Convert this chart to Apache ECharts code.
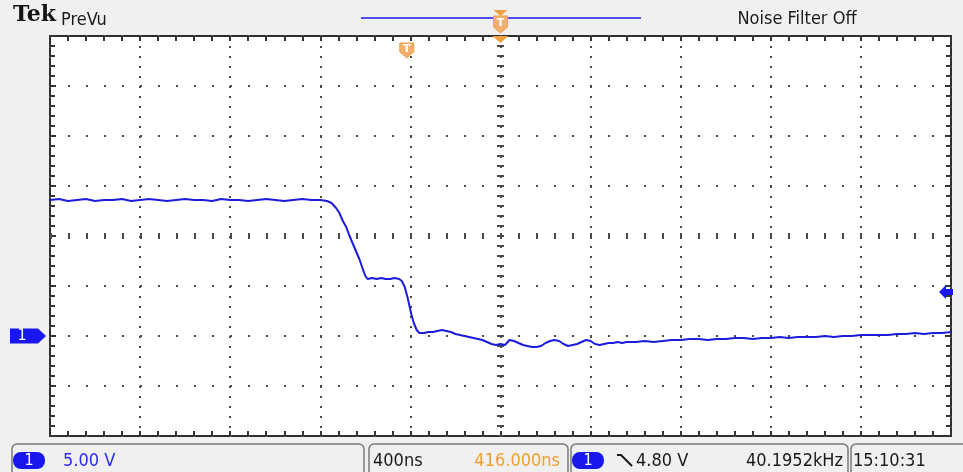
<!DOCTYPE html>
<html><head><meta charset="utf-8">
<script src="https://cdn.jsdelivr.net/npm/echarts@6/dist/echarts.min.js"></script>
<style>html,body{margin:0;padding:0;background:#f0f0f0;overflow:hidden}#c{width:963px;height:472px}</style>
</head><body><div id="c"></div>
<script>
// ---- data (time in ns, voltage in V) ----
const timeNs = [
 -2000,-1960,-1920,-1880,-1840,-1800,-1760,-1720,-1680,-1640,-1600,-1560,-1520,-1480,-1440,-1400,
 -1360,-1320,-1280,-1240,-1200,-1160,-1120,-1080,-1040,-1000,-960,-920,-880,-840,-800,-770,
 -750,-730,-715,-700,-685,-670,-655,-640,-625,-613,-600,-590,-570,-550,-530,-510,-490,-470,-450,
 -438,-425,-412,-404,-395,-385,-372,-360,-340,-320,-300,-280,-260,-240,-220,-200,-180,-160,-140,
 -120,-100,-80,-60,-40,-20,0,20,40,60,80,100,120,140,160,180,200,220,240,260,280,300,320,340,360,
 380,400,420,440,460,480,500,520,540,560,600,640,680,720,760,800,840,880,920,960,1000,1040,1080,
 1120,1160,1200,1240,1280,1320,1360,1400,1440,1480,1520,1560,1600,1640,1680,1720,1760,1800,1840,
 1880,1920,1960,2000
];
const volts = [
 13.6,13.7,13.5,13.6,13.7,13.5,13.6,13.6,13.7,13.5,13.6,13.7,13.6,13.5,13.6,13.7,
 13.6,13.6,13.5,13.7,13.6,13.6,13.5,13.6,13.7,13.6,13.5,13.6,13.7,13.6,13.6,13.5,
 13.3,12.8,12.3,11.5,10.9,10.0,9.2,8.4,7.6,6.8,6.0,5.7,5.8,5.7,5.8,5.7,5.7,5.8,5.7,
 5.5,4.9,3.8,3.0,2.1,1.3,0.6,0.3,0.3,0.4,0.4,0.5,0.6,0.5,0.4,0.2,0.1,0.0,-0.1,
 -0.2,-0.3,-0.4,-0.6,-0.8,-0.9,-0.8,-0.9,-0.4,-0.5,-0.7,-0.9,-1.0,-1.1,-1.1,-1.0,-0.7,-0.5,-0.4,-0.5,-0.8,-1.0,-0.9,-0.8,-0.6,
 -0.4,-0.5,-0.8,-0.9,-0.8,-0.7,-0.7,-0.6,-0.7,-0.6,-0.6,-0.5,-0.6,-0.5,-0.4,-0.4,-0.3,-0.3,-0.4,-0.3,-0.3,-0.2,-0.2,
 -0.3,-0.2,-0.2,-0.1,-0.2,-0.1,-0.1,-0.1,0.0,-0.1,0.0,0.0,0.1,0.1,0.1,0.1,0.2,0.2,0.3,
 0.2,0.3,0.3,0.4
];
// axis setup: 10 horizontal divisions of 400 ns, 8 vertical divisions of 5 V
const xMinNs = -2000, xMaxNs = 2000, xDivNs = 400;
const yMinV = -10, yMaxV = 30, yDivV = 5;
// markers (data units)
const groundV = 0;
const triggerTimeNs = -416;
const triggerLevelMarkV = 4.4;
const centerV = 10;
// texts
const brandText = 'Tek', modeText = 'PreVu', filterText = 'Noise Filter Off';
const chText = '1', scaleText = '5.00 V', timebaseText = '400ns', delayText = '416.000ns';
const trigLevelText = '4.80 V', freqText = '40.1952kHz', clockText = '15:10:31';

const NARROW = "'Liberation Sans Narrow','DejaVu Sans Condensed','Liberation Sans',sans-serif";
const TRACE = '#1c1cdc';
const DOT = '#4a4a4a';

const baseX = {
  type:'value', min:xMinNs, max:xMaxNs, interval:xDivNs,
  axisLine:{show:false, onZero:false}, axisLabel:{show:false},
  axisTick:{show:true, inside:true, length:5, lineStyle:{color:'#333', width:2}},
  minorTick:{show:true, splitNumber:5, length:5, lineStyle:{color:'#333', width:2}},
  minorSplitLine:{show:false}
};
const baseY = {
  type:'value', min:yMinV, max:yMaxV, interval:yDivV,
  axisLine:{show:false, onZero:false}, axisLabel:{show:false},
  axisTick:{show:true, inside:true, length:6, lineStyle:{color:'#333', width:2}},
  minorTick:{show:true, splitNumber:5, length:5, lineStyle:{color:'#333', width:2}},
  minorSplitLine:{show:false}
};

const option = {
  animation:false,
  backgroundColor:'#f0f0f0',
  grid:{left:50, top:36, width:901, height:400, show:true, backgroundColor:'#ffffff', borderColor:'#2e2e2e', borderWidth:2, z:0},
  xAxis:[
    Object.assign({}, baseX, {position:'bottom', splitLine:{show:true, lineStyle:{color:DOT, width:2, type:[2,8]}}}),
    Object.assign({}, baseX, {position:'top', splitLine:{show:false}})
  ],
  yAxis:[
    Object.assign({}, baseY, {position:'left', splitLine:{show:true, lineStyle:{color:DOT, width:2, type:[2,16]}}}),
    Object.assign({}, baseY, {position:'right', splitLine:{show:false}})
  ],
  series:[
    {
      type:'line', xAxisIndex:0, yAxisIndex:0, data:[], z:2, silent:true,
      markLine:{
        silent:true, symbol:['none','none'], label:{show:false}, animation:false,
        data:[
          {xAxis:0, lineStyle:{color:DOT, width:7, type:[2,8], dashOffset:1}},
          {yAxis:centerV, lineStyle:{color:DOT, width:6, type:[2,16]}}
        ]
      }
    },
    {
      type:'line', xAxisIndex:0, yAxisIndex:0, z:5, showSymbol:false, silent:true,
      data: timeNs.map((t,i)=>[t, volts[i]]),
      lineStyle:{color:TRACE, width:2}
    }
  ]
};

const chart = echarts.init(document.getElementById('c'));
chart.setOption(option);

const px = (t,v)=>chart.convertToPixel({xAxisIndex:0, yAxisIndex:0}, [t,v]);
const gY = px(0, groundV)[1];
const cX = px(0, 0)[0];
const tX = px(triggerTimeNs, 0)[0];
const lvY = px(0, triggerLevelMarkV)[1];
const ORANGE = '#f0a040';
const BLUE = '#1818ee';

const txt = (text, x, y, font, fill, align) => ({type:'text', x:x, y:y, z:20, silent:true,
  style:{text:text, font:font, fill:fill, align:align||'left', verticalAlign:'middle'}});
const box = (x,w) => ({type:'rect', z:15, silent:true, shape:{x:x, y:444, width:w, height:40, r:5},
  style:{fill:'#f0f0f0', stroke:'#7a7a7a', lineWidth:1.5}});
const pillRect = (x) => ({type:'rect', z:21, silent:true, shape:{x:x, y:452, width:32, height:17, r:8}, style:{fill:BLUE}});
const pillText = (x) => ({type:'text', z:22, silent:true, x:x+16, y:461, style:{text:chText, font:"16px "+NARROW, fill:'#fff', align:'center', verticalAlign:'middle'}});

chart.setOption({graphic:[
  txt(brandText, 13, 15, "bold 22px 'DejaVu Serif','Liberation Serif',serif", '#141414'),
  txt(modeText, 61, 20, "18px "+NARROW, '#1a1a1a'),
  {type:'line', z:10, silent:true, shape:{x1:361, y1:18, x2:641, y2:18}, style:{stroke:'#5050f0', lineWidth:2}},
  txt(filterText, 797, 19, "18px "+NARROW, '#1a1a1a', 'center'),
  // record-centre marker in header
  {type:'polygon', z:12, silent:true, shape:{points:[[cX-7,10],[cX+7,10],[cX,16]]}, style:{fill:ORANGE}},
  {type:'polygon', z:12, silent:true, shape:{points:[[cX-7,16],[cX+7,16],[cX+7,27],[cX,33],[cX-7,27]]}, style:{fill:'#f2b070', stroke:ORANGE, lineWidth:1}},
  {type:'text', z:13, silent:true, x:cX, y:23, style:{text:'T', font:"bold 11px 'DejaVu Sans'", fill:'#fff', align:'center', verticalAlign:'middle'}},
  // expansion point marker at top of graticule
  {type:'polygon', z:12, silent:true, shape:{points:[[cX-8,36],[cX+8,36],[cX,43]]}, style:{fill:ORANGE}},
  // trigger position marker
  {type:'polygon', z:12, silent:true, shape:{points:[[tX-7,43],[tX+7,43],[tX+7,52],[tX,58],[tX-7,52]]}, style:{fill:'#f2b070', stroke:ORANGE, lineWidth:1}},
  {type:'text', z:13, silent:true, x:tX, y:49, style:{text:'T', font:"bold 11px 'DejaVu Sans'", fill:'#fff', align:'center', verticalAlign:'middle'}},
  // channel ground marker
  {type:'polygon', z:12, silent:true, shape:{points:[[10,gY-7.5],[38,gY-7.5],[46,gY],[38,gY+7.5],[10,gY+7.5]]}, style:{fill:BLUE}},
  {type:'text', z:13, silent:true, x:22, y:gY, style:{text:chText, font:"16px "+NARROW, fill:'#fff', align:'center', verticalAlign:'middle'}},
  // trigger level arrow
  {type:'polygon', z:12, silent:true, shape:{points:[[939,lvY],[946,lvY-7],[946,lvY-3],[953,lvY-3],[953,lvY+3],[946,lvY+3],[946,lvY+7]]}, style:{fill:BLUE}},
  // bottom status boxes
  box(12,352), box(369,199), box(571,277), box(851,125),
  pillRect(13), pillText(13), txt(scaleText, 63, 461, "18px "+NARROW, '#2a2af0'),
  txt(timebaseText, 373, 461, "18px "+NARROW, '#1a1a1a'),
  txt(delayText, 560, 461, "18px "+NARROW, '#f0a030', 'right'),
  pillRect(572), pillText(572),
  {type:'polyline', z:20, silent:true, shape:{points:[[617,455],[621,455],[632,466]]}, style:{stroke:'#1a1a1a', lineWidth:2, fill:null}},
  txt(trigLevelText, 636, 461, "18px "+NARROW, '#1a1a1a'),
  txt(freqText, 843, 461, "18px "+NARROW, '#1a1a1a', 'right'),
  txt(clockText, 853, 461, "18px "+NARROW, '#1a1a1a')
]});
</script>
</body></html>
